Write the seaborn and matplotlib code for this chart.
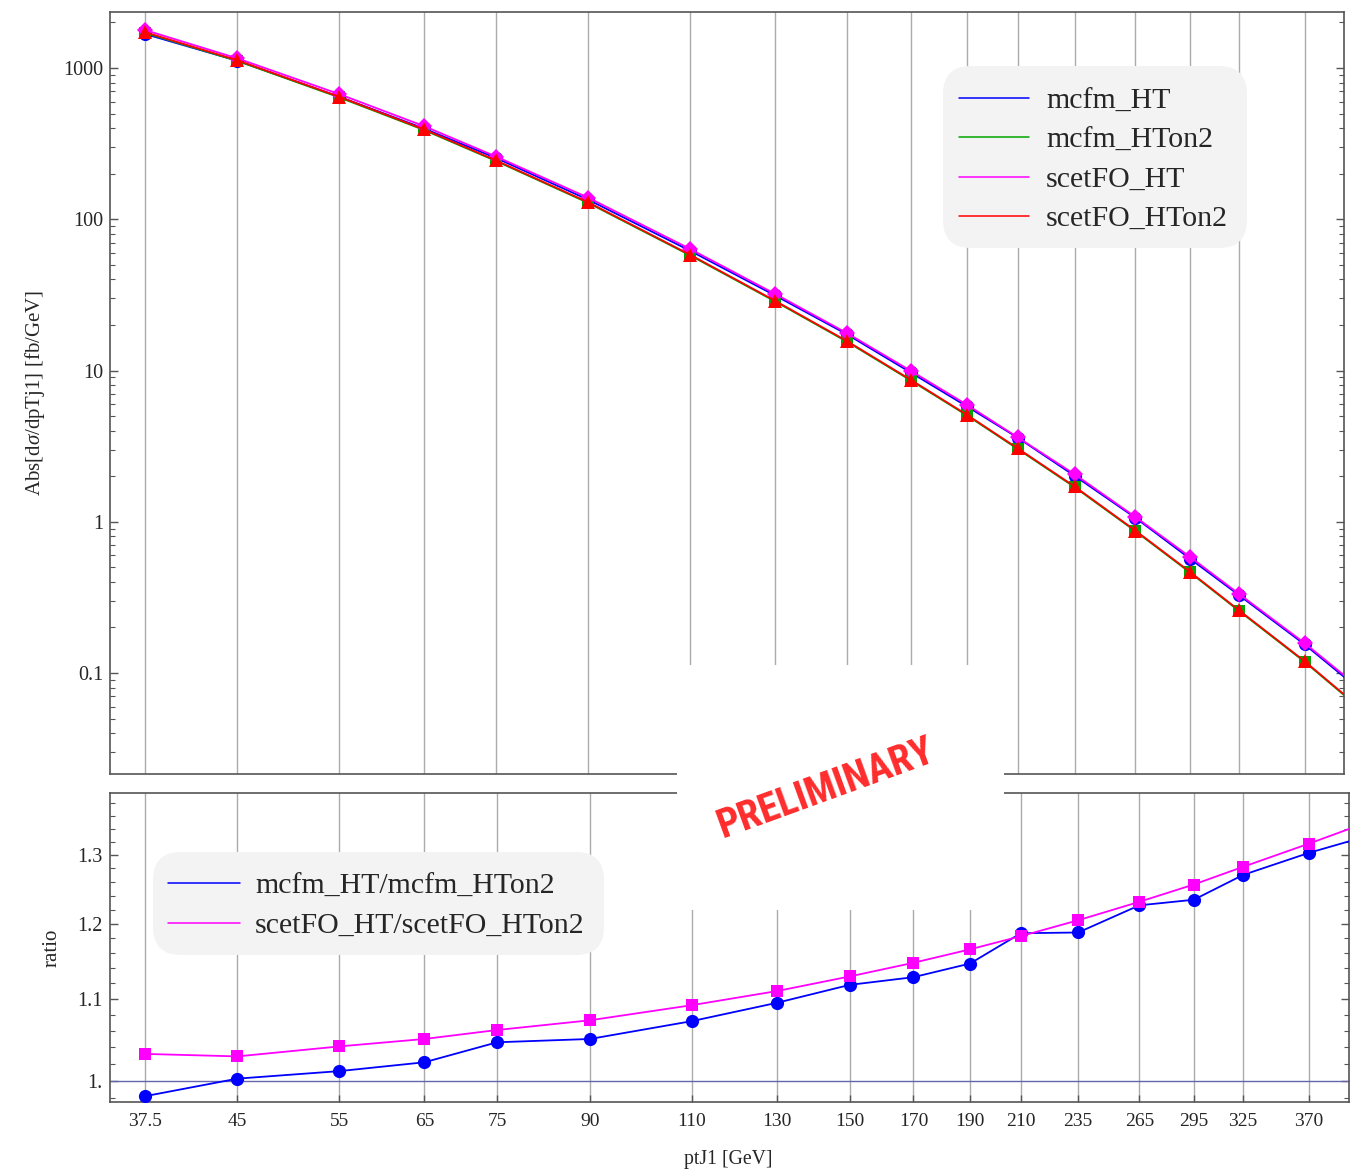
import matplotlib
matplotlib.use("Agg")
import matplotlib.pyplot as plt
from matplotlib.lines import Line2D
from matplotlib.patches import Rectangle, FancyBboxPatch
from matplotlib.transforms import IdentityTransform
from matplotlib.ticker import FixedLocator, FixedFormatter, NullFormatter, NullLocator, LogLocator
import numpy as np
import pandas as pd
import seaborn as sns

# leading-jet pT bin centres [GeV]; the last bin lies just past the plotted range
pt_bins = [37.5, 45, 55, 65, 75, 90, 110, 130, 150, 170, 190, 210, 235, 265, 295, 325, 370, 425]
pt_labels = ["37.5", "45", "55", "65", "75", "90", "110", "130", "150", "170",
             "190", "210", "235", "265", "295", "325", "370"]

# dsigma/dpT [fb/GeV]
mcfm_HT = [1678, 1116, 647, 399, 254, 134.4, 61.9, 31.45, 17.31, 9.71, 5.79, 3.60,
           2.013, 1.062, 0.5715, 0.3277, 0.1547, 0.0643]
mcfm_HTon2 = [1709, 1114, 640, 390, 242.5, 128.0, 57.7, 28.72, 15.47, 8.61, 5.05, 3.03,
              1.694, 0.8656, 0.4631, 0.2580, 0.1187, 0.0482]
scetFO_HT = [1783, 1158, 673, 414, 259.8, 138.7, 63.66, 32.21, 17.64, 9.976, 5.94, 3.622,
             2.062, 1.076, 0.5876, 0.3342, 0.1579, 0.0661]
scetFO_HTon2 = [1726, 1125, 646.5, 394, 244.9, 129.3, 58.3, 29.01, 15.63, 8.70, 5.10, 3.062,
                1.7115, 0.8743, 0.4678, 0.2606, 0.1199, 0.0487]

# scale-choice ratios
ratio_mcfm = [0.9825, 1.0028, 1.0116, 1.022, 1.046, 1.050, 1.072, 1.095, 1.118, 1.128,
              1.146, 1.187, 1.188, 1.226, 1.234, 1.270, 1.303, 1.334]
ratio_scetFO = [1.032, 1.029, 1.041, 1.050, 1.061, 1.073, 1.092, 1.110, 1.129, 1.147,
                1.165, 1.183, 1.205, 1.231, 1.256, 1.282, 1.317, 1.357]

top_names = ["mcfm_HT", "mcfm_HTon2", "scetFO_HT", "scetFO_HTon2"]
ratio_names = ["mcfm_HT/mcfm_HTon2", "scetFO_HT/scetFO_HTon2"]

sns.set_style("ticks")
plt.rcParams["font.family"] = ["Liberation Serif", "DejaVu Serif"]
plt.rcParams["mathtext.fontset"] = "custom"
plt.rcParams["mathtext.rm"] = "Liberation Serif"
plt.rcParams["mathtext.it"] = "Liberation Serif:italic"

W, H = 1359, 1170
fig = plt.figure(figsize=(W / 100, H / 100), dpi=100)
fig.patch.set_facecolor("white")


def frac(l, t, r, b):
    return [l / W, 1 - b / H, (r - l) / W, (b - t) / H]


ax_top = fig.add_axes(frac(110, 12, 1344, 774))
ax_bot = fig.add_axes(frac(109.5, 793, 1348.7, 1102))

top_df = pd.DataFrame({
    "pt": pt_bins * 4,
    "value": mcfm_HT + mcfm_HTon2 + scetFO_HT + scetFO_HTon2,
    "series": sum([[n] * len(pt_bins) for n in top_names], []),
})
ratio_df = pd.DataFrame({
    "pt": pt_bins * 2,
    "value": ratio_mcfm + ratio_scetFO,
    "series": sum([[n] * len(pt_bins) for n in ratio_names], []),
})

top_style = {
    "mcfm_HT": ("#0000ff", "o", 9.5),
    "mcfm_HTon2": ("#00a600", "s", 9.0),
    "scetFO_HT": ("#ff00ff", "D", 8.3),
    "scetFO_HTon2": ("#ff0000", "^", 10.5),
}
ratio_style = {
    "mcfm_HT/mcfm_HTon2": ("#0000ff", "o", 9.5),
    "scetFO_HT/scetFO_HTon2": ("#ff00ff", "s", 8.5),
}

for ax in (ax_top, ax_bot):
    ax.set_xscale("log")
    ax.set_yscale("log")

for name in top_names:
    col, mk, ms = top_style[name]
    sns.lineplot(data=top_df[top_df.series == name], x="pt", y="value", ax=ax_top,
                 color=col, marker=mk, markersize=ms, markeredgewidth=0,
                 linewidth=1.3, errorbar=None, legend=False, zorder=3)

for name in ratio_names:
    col, mk, ms = ratio_style[name]
    sns.lineplot(data=ratio_df[ratio_df.series == name], x="pt", y="value", ax=ax_bot,
                 color=col, marker=mk, markersize=ms, markeredgewidth=0,
                 linewidth=1.3, errorbar=None, legend=False, zorder=3)

ax_bot.axhline(1.0, color="#6464b0", lw=1.0, zorder=2)

spine_col = "#555555"
grid_col = "#ababab"
for ax in (ax_top, ax_bot):
    ax.set_xlim(35, 400)
    for sp in ax.spines.values():
        sp.set_visible(True)
        sp.set_color(spine_col)
        sp.set_linewidth(1.2)
    ax.xaxis.set_major_locator(FixedLocator(pt_bins[:-1]))
    ax.xaxis.set_minor_locator(NullLocator())
    ax.grid(True, axis="x", which="major", color=grid_col, lw=1.0, zorder=0)
    ax.set_xlabel("")
    ax.set_ylabel("")

# upper panel axes
ax_top.set_ylim(0.0215, 2345)
ax_top.yaxis.set_major_locator(FixedLocator([0.1, 1, 10, 100, 1000]))
ax_top.yaxis.set_major_formatter(FixedFormatter(["0.1", "1", "10", "100", "1000"]))
ax_top.yaxis.set_minor_locator(LogLocator(base=10, subs=np.arange(2, 10)))
ax_top.yaxis.set_minor_formatter(NullFormatter())
ax_top.tick_params(axis="x", which="both", length=0, labelbottom=False)
ax_top.tick_params(axis="y", which="both", direction="in", left=True, right=True,
                   color=spine_col, labelsize=14.5, pad=5)
ax_top.tick_params(axis="y", which="major", length=6, width=1.0)
ax_top.tick_params(axis="y", which="minor", length=3.5, width=0.8)
ax_top.set_ylabel("Abs[d$\\it{\\sigma}$/dpTj1] [fb/GeV]", fontsize=15)
ax_top.yaxis.set_label_coords(-0.0608, 0.5)
ax_top.yaxis.label.set_va("center")

# ratio panel axes
ax_bot.set_ylim(0.976, 1.3966)
ax_bot.yaxis.set_major_locator(FixedLocator([1.0, 1.1, 1.2, 1.3]))
ax_bot.yaxis.set_major_formatter(FixedFormatter(["1.", "1.1", "1.2", "1.3"]))
ax_bot.yaxis.set_minor_locator(FixedLocator(
    [0.98] + [round(1.0 + 0.02 * k, 2) for k in range(1, 20) if k % 5 != 0]))
ax_bot.yaxis.set_minor_formatter(NullFormatter())
ax_bot.xaxis.set_major_formatter(FixedFormatter(pt_labels))
ax_bot.tick_params(axis="x", which="major", direction="in", length=5, width=1.0,
                   color=spine_col, labelsize=14, pad=8)
ax_bot.tick_params(axis="y", which="both", direction="in", left=True, right=True,
                   color=spine_col, labelsize=14.5, pad=5)
ax_bot.tick_params(axis="y", which="major", length=6, width=1.0)
ax_bot.tick_params(axis="y", which="minor", length=3.5, width=0.8)
ax_bot.set_ylabel("ratio", fontsize=15)
ax_bot.yaxis.set_label_coords(-0.0464, 0.5)
ax_bot.yaxis.label.set_va("center")
ax_bot.set_xlabel("ptJ1 [GeV]", fontsize=14.2)
ax_bot.xaxis.set_label_coords(0.499, -0.155)


def add_legend(ax, names, styles, box, handle_x, row_mid, hlen, hpad):
    # rounded grey panel behind the entries (pixel coordinates, y measured from top)
    l, t, r, b = box
    panel = FancyBboxPatch((l, H - b), r - l, b - t,
                           boxstyle="round,pad=0,rounding_size=28",
                           transform=IdentityTransform(), facecolor="#f3f3f3",
                           edgecolor="none", zorder=4, clip_on=False)
    ax.add_patch(panel)
    handles = [Line2D([], [], color=styles[n][0], lw=1.1) for n in names]
    leg = ax.legend(handles, names, loc="center left",
                    bbox_to_anchor=(handle_x / W, 1 - row_mid / H),
                    bbox_transform=fig.transFigure, borderaxespad=0, frameon=False,
                    fontsize=21.5, handlelength=hlen, handletextpad=hpad,
                    borderpad=0, labelspacing=0.41)
    leg.set_zorder(5)
    return leg


add_legend(ax_top, top_names, top_style, (943, 66, 1247, 248), 959, 160, 2.34, 0.57)
add_legend(ax_bot, ratio_names, ratio_style, (153, 852, 604, 955), 168, 906, 2.41, 0.5)

# stamp area
fig.add_artist(Rectangle((677 / W, 1 - 910 / H), 327 / W, 245 / H,
                         transform=fig.transFigure, facecolor="white",
                         edgecolor="none", zorder=5))
stamp = fig.text(826 / W, 1 - 789 / H, "PRELIMINARY", ha="center", va="center",
                 color="#ff1a1a", fontsize=30, fontweight="bold",
                 family=["Liberation Sans Narrow", "Roboto Condensed",
                         "DejaVu Sans Condensed", "Roboto", "DejaVu Sans"],
                 fontstretch="condensed", alpha=0.92, zorder=6)
fig.canvas.draw()
w_px = stamp.get_window_extent().width
stamp.set_fontsize(30 * 228 / w_px)
stamp.set_rotation(20)

fig.savefig("out.png", dpi=100)
